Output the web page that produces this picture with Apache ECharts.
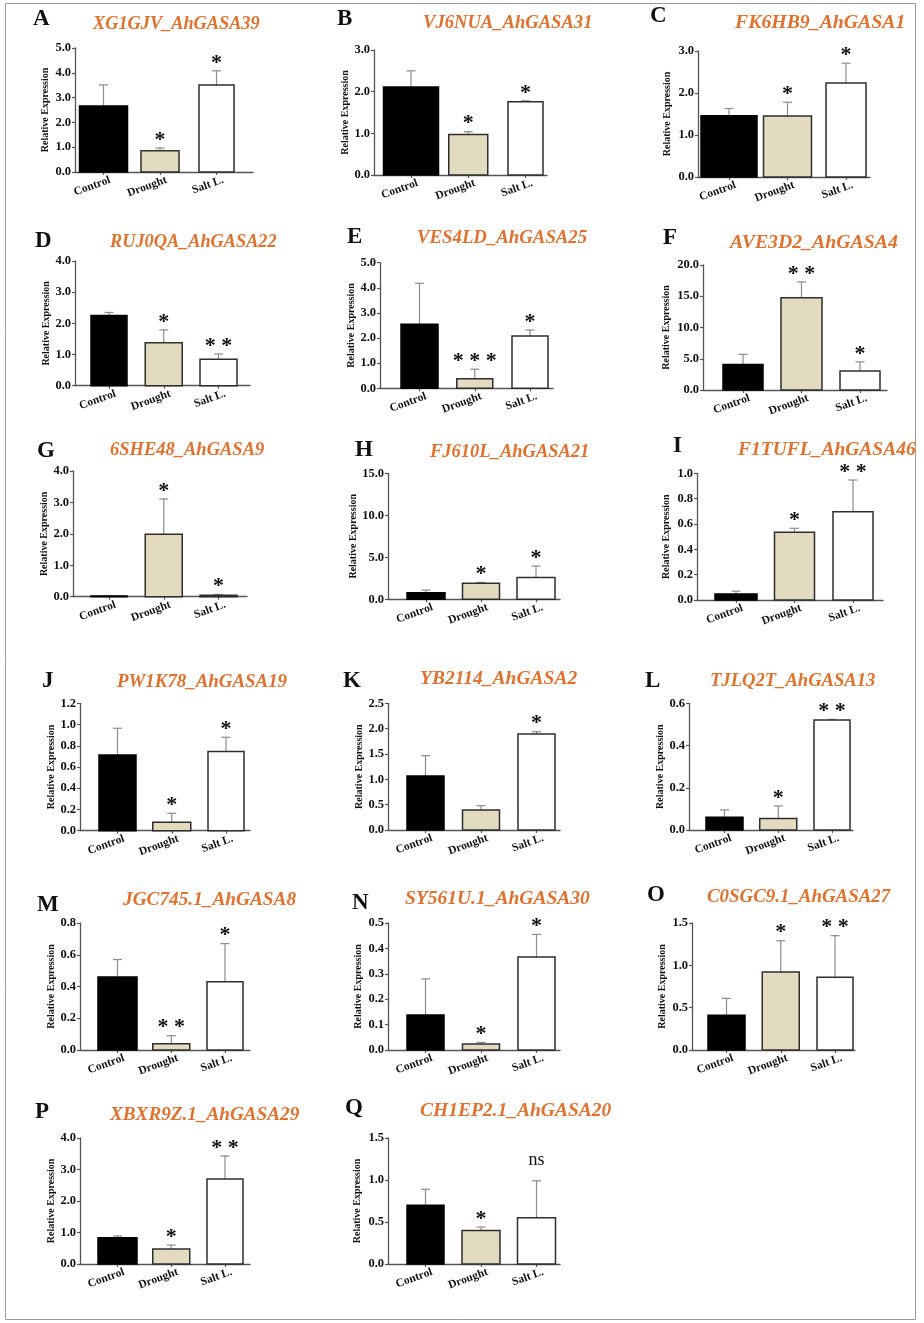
<!DOCTYPE html>
<html><head><meta charset="utf-8">
<script src="https://cdn.jsdelivr.net/npm/echarts@6/dist/echarts.min.js"></script>
<style>html,body{margin:0;padding:0;background:#fff}#c{width:924px;height:1323px}</style>
</head><body><div id="c"></div>
<script>
// ---------- DATA ----------
const categories = ['Control', 'Drought', 'Salt L.'];
const panelLetters = ['A','B','C','D','E','F','G','H','I','J','K','L','M','N','O','P','Q'];
const geneNames = ['XG1GJV_AhGASA39','VJ6NUA_AhGASA31','FK6HB9_AhGASA1','RUJ0QA_AhGASA22','VES4LD_AhGASA25',
  'AVE3D2_AhGASA4','6SHE48_AhGASA9','FJ610L_AhGASA21','F1TUFL_AhGASA46','PW1K78_AhGASA19','YB2114_AhGASA2',
  'TJLQ2T_AhGASA13','JGC745.1_AhGASA8','SY561U.1_AhGASA30','C0SGC9.1_AhGASA27','XBXR9Z.1_AhGASA29','CH1EP2.1_AhGASA20'];
const controlMean = [2.66, 2.11, 1.46, 2.25, 2.55, 4.1, 0.02, 0.79, 0.047, 0.714, 1.066, 0.060, 0.46, 0.138, 0.41, 0.83, 0.70];
const controlSD   = [0.85, 0.39, 0.17, 0.10, 1.63, 1.6, 0.01, 0.31, 0.023, 0.251, 0.40, 0.035, 0.11, 0.142, 0.20, 0.06, 0.19];
const droughtMean = [0.86, 0.97, 1.45, 1.38, 0.38, 14.77, 1.99, 1.90, 0.535, 0.079, 0.395, 0.055, 0.04, 0.024, 0.92, 0.48, 0.40];
const droughtSD   = [0.11, 0.07, 0.33, 0.41, 0.38, 2.53, 1.12, 0.10, 0.031, 0.085, 0.085, 0.059, 0.05, 0.006, 0.37, 0.12, 0.04];
const saltMean    = [3.51, 1.76, 2.24, 0.85, 2.08, 3.04, 0.05, 2.60, 0.697, 0.745, 1.894, 0.521, 0.43, 0.366, 0.86, 2.70, 0.55];
const saltSD      = [0.57, 0.02, 0.47, 0.17, 0.24, 1.46, 0.02, 1.36, 0.25, 0.135, 0.046, 0.003, 0.24, 0.089, 0.49, 0.73, 0.44];
const controlSig  = ['','','','','','','','','','','','','','','','',''];
const droughtSig  = ['*','*','*','*','***','**','*','*','*','*','','*','**','*','*','*','*'];
const saltSig     = ['*','*','*','**','*','*','*','*','**','*','*','**','*','*','**','**','ns'];
const yMax  = [5, 3, 3, 4, 5, 20, 4, 15, 1, 1.2, 2.5, 0.6, 0.8, 0.5, 1.5, 4, 1.5];
const yStep = [1, 1, 1, 1, 1, 5, 1, 5, 0.2, 0.2, 0.5, 0.2, 0.2, 0.1, 0.5, 1, 0.5];

// ---------- LAYOUT (pixels) ----------
const layout = [
 {L:75, R:253, c0:103.5, s:56.5, top:48, bottom:172, bw:[48,38,35], letter:[33,19], title:[93,24], ts:18.3, nameOff:30},
 {L:374, R:547, c0:411, s:57.25, top:50, bottom:175, bw:[55,39,35], letter:[337,19], title:[423,23], ts:18.6, nameOff:19},
 {L:698, R:870, c0:729, s:58.5, top:51, bottom:177, bw:[56,48,40], letter:[650,16], title:[735,23], ts:19.8, nameOff:31},
 {L:75, R:250, c0:109, s:54.75, top:261, bottom:385.7, bw:[36,37,37], letter:[35,241], title:[110,242.7], ts:18.3, nameOff:29},
 {L:380, R:553, c0:419.5, s:55.25, top:262.7, bottom:388.3, bw:[37,36,36], letter:[347,237], title:[417,238], ts:18.8, nameOff:25.5},
 {L:703, R:887, c0:743, s:58.5, top:265, bottom:390, bw:[40,41,40], letter:[663,238], title:[730,242.7], ts:19.8, nameOff:37},
 {L:73, R:247, c0:109, s:54.75, top:471, bottom:596.7, bw:[36,37,37], letter:[37,451], title:[110,450.7], ts:18.5, nameOff:27},
 {L:388, R:560, c0:426, s:55, top:473.3, bottom:599.3, bw:[38,37,38], letter:[355,450], title:[430,452.7], ts:18.5, nameOff:33.5},
 {L:697, R:883, c0:736, s:58.5, top:473.3, bottom:600, bw:[42,40,40], letter:[673,446], title:[738,450], ts:19.5, nameOff:31},
 {L:80, R:250, c0:117.5, s:54.25, top:703.3, bottom:830.7, bw:[37,38,36], letter:[42,681], title:[117,681.7], ts:18.9, nameOff:29},
 {L:388, R:560, c0:425.5, s:55.5, top:703.3, bottom:830, bw:[37,37,37], letter:[343,681], title:[420,679.3], ts:19.5, nameOff:28.5},
 {L:689, R:853, c0:724.5, s:53.75, top:703.3, bottom:830, bw:[37,37,36], letter:[645,681], title:[710,680.7], ts:18.6, nameOff:26.5},
 {L:80, R:250, c0:117.5, s:53.75, top:923, bottom:1050, bw:[39,37,36], letter:[37,905], title:[123,900], ts:19.3, nameOff:28},
 {L:388, R:560, c0:425.5, s:55.5, top:923, bottom:1050, bw:[37,37,37], letter:[352,903], title:[405,899], ts:19.5, nameOff:30},
 {L:692, R:855, c0:726.5, s:54.25, top:923, bottom:1050, bw:[37,37,36], letter:[647,895], title:[707,897], ts:18.9, nameOff:30},
 {L:80, R:250, c0:117.5, s:53.75, top:1138, bottom:1264, bw:[39,37,36], letter:[35,1112], title:[110,1115], ts:19.2, nameOff:28},
 {L:388, R:560, c0:425.5, s:55.5, top:1138, bottom:1264, bw:[37,38,38], letter:[345,1108], title:[420,1111], ts:19.5, nameOff:31}
];

const FONT = "'Liberation Serif','Times New Roman',serif";
const AX = '#555';
const ERR = '#8c8c8c';
const FILL = ['#000000', '#E3DBC0', '#FFFFFF'];
const EDGE = ['#000000', '#2e2e2e', '#2e2e2e'];
const TITLE_COLOR = '#E0712F';

function makeRender(i) {
  const lay = layout[i];
  const sigs = [controlSig[i], droughtSig[i], saltSig[i]];
  return function (params, api) {
    const k = api.value(0), m = api.value(1), sd = api.value(2);
    const b = api.coord([k, 0]), t = api.coord([k, m]), e = api.coord([k, m + sd]);
    const w = lay.bw[k], x = b[0];
    const ch = [
      {type:'line', shape:{x1:x, y1:t[1], x2:x, y2:e[1]}, style:{stroke:ERR, lineWidth:1.2}},
      {type:'line', shape:{x1:x-4.5, y1:e[1], x2:x+4.5, y2:e[1]}, style:{stroke:ERR, lineWidth:1.2}},
      {type:'rect', shape:{x:x-w/2, y:t[1], width:w, height:Math.max(b[1]-t[1], 0.5)}, style:{fill:FILL[k], stroke:EDGE[k], lineWidth:1.5}}
    ];
    const s = sigs[k];
    if (s) {
      const isNs = s === 'ns';
      ch.push({type:'text', style:{
        text: isNs ? 'ns' : s.split('').join(' '),
        x: x, y: e[1] - (isNs ? 21 : 8),
        align:'center', verticalAlign:'middle',
        font: isNs ? "18px " + FONT : "bold 22px " + FONT,
        fill:'#111'
      }});
    }
    return {type:'group', children: ch};
  };
}

const grids = [], xAxes = [], yAxes = [], series = [];
const graphics = [
  {type:'rect', shape:{x:5.5, y:3.5, width:910, height:1316}, style:{fill:'none', stroke:'#9a9a9a', lineWidth:1}, silent:true, z:-10}
];

layout.forEach((lay, i) => {
  grids.push({left:lay.L, top:lay.top, width:lay.R-lay.L, height:lay.bottom-lay.top, outerBoundsMode:'none', containLabel:false});
  xAxes.push({
    gridIndex:i, type:'value',
    min:(lay.L-lay.c0)/lay.s, max:(lay.R-lay.c0)/lay.s,
    axisLine:{show:true, onZero:false, lineStyle:{color:AX, width:1.3}},
    axisTick:{show:true, customValues:[0,1,2], length:3, lineStyle:{color:AX, width:1.2}},
    axisLabel:{customValues:[0,1,2], formatter:v => categories[Math.round(v)], rotate:20, margin:10,
      padding:[0,-7,0,0],
      fontFamily:FONT, fontWeight:'bold', fontSize:11.5, color:'#111'},
    splitLine:{show:false}
  });
  yAxes.push({
    gridIndex:i, type:'value', min:0, max:yMax[i], interval:yStep[i],
    axisLine:{show:true, onZero:false, lineStyle:{color:AX, width:1.3}},
    axisTick:{show:true, length:3, lineStyle:{color:AX, width:1.2}},
    axisLabel:{formatter:v => v.toFixed(1), margin:4, fontFamily:FONT, fontWeight:'bold', fontSize:12.5, color:'#111'},
    splitLine:{show:false},
    name:'Relative Expression', nameLocation:'middle', nameGap:lay.nameOff-5,
    nameTextStyle:{fontFamily:FONT, fontWeight:'bold', fontSize:10, color:'#111'}
  });
  series.push({
    type:'custom', xAxisIndex:i, yAxisIndex:i, clip:false, animation:false,
    data:[[0, controlMean[i], controlSD[i]], [1, droughtMean[i], droughtSD[i]], [2, saltMean[i], saltSD[i]]],
    renderItem: makeRender(i)
  });
  graphics.push({type:'text', x:lay.letter[0], y:lay.letter[1], silent:true,
    style:{text:panelLetters[i], font:"bold 23px " + FONT, fill:'#111', verticalAlign:'middle', align:'left'}});
  graphics.push({type:'text', x:lay.title[0], y:lay.title[1], silent:true,
    style:{text:geneNames[i], font:"italic bold " + lay.ts + "px " + FONT, fill:TITLE_COLOR, verticalAlign:'middle', align:'left'}});
});

const chart = echarts.init(document.getElementById('c'), null, {renderer:'canvas', width:924, height:1323});
chart.setOption({
  animation:false,
  backgroundColor:'#ffffff',
  grid:grids, xAxis:xAxes, yAxis:yAxes, series:series, graphic:graphics
});
</script>
</body></html>
